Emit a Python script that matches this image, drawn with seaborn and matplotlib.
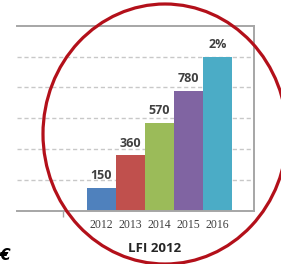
import matplotlib
matplotlib.use("Agg")
import matplotlib.pyplot as plt
import seaborn as sns
import pandas as pd
from matplotlib.patches import Ellipse
from matplotlib.ticker import FixedLocator

years = ["2012", "2013", "2014", "2015", "2016"]
values = [150, 360, 570, 780, 1000]
value_labels = ["150", "360", "570", "780", "2%"]
colors = ["#4F81BD", "#C0504D", "#9BBB59", "#8064A2", "#4BACC6"]
xlabel = "LFI 2012"

df = pd.DataFrame({"year": years, "value": values})

sns.set_theme(style="white")
W, H = 281, 264
fig = plt.figure(figsize=(W / 100, H / 100), dpi=100)
ax = fig.add_axes([17 / W, 1 - 211 / H, (254 - 17) / W, (211 - 25.7) / H])

sns.barplot(data=df, x="year", y="value", hue="year", palette=colors,
            width=1.0, legend=False, ax=ax, saturation=1, linewidth=0)

ax.set_ylim(0, 1200)
ax.set_xlim(-2.91, 5.26)
ax.set_yticks([])
for gy in [200, 400, 600, 800, 1000]:
    ax.axhline(gy, color="#C8C8C8", lw=1, ls=(0, (3, 2)), zorder=0)

for s in ["top", "right", "bottom"]:
    ax.spines[s].set_color("#A6A6A6")
    ax.spines[s].set_linewidth(1.4)
ax.spines["left"].set_visible(False)

ax.tick_params(axis="x", which="major", length=0, pad=6)
ax.xaxis.set_minor_locator(FixedLocator([-1.31]))
ax.tick_params(axis="x", which="minor", length=4, width=1, color="#A6A6A6",
               bottom=True, direction="out")
ax.set_xticks(range(len(years)))
ax.set_xticklabels(years, fontsize=8.5, color="#404040", family="Liberation Serif")
ax.set_xlabel(xlabel, fontsize=9.5, fontweight="bold", color="#262626",
              family="Open Sans", labelpad=8)
ax.xaxis.label.set_x((155 - 17) / (254 - 17))
ax.set_ylabel("")

for i, (v, lab) in enumerate(zip(values, value_labels)):
    ax.annotate(lab, (i, v), xytext=(0, 4), textcoords="offset points",
                ha="center", va="bottom", fontsize=9, fontweight="bold",
                color="#404040", family="Open Sans")

# overlay for ellipse
ov = fig.add_axes([0, 0, 1, 1])
ov.set_xlim(0, W)
ov.set_ylim(H, 0)
ov.axis("off")
ov.patch.set_alpha(0)
ov.add_patch(Ellipse((165, 134), 244, 260, angle=0, fill=False,
                     edgecolor="#B3101A", lw=2.3))
ov.text(0, 263, "€", fontsize=11, fontweight="bold", fontstyle="italic",
        ha="left", va="bottom", color="black")

fig.savefig("out.png", dpi=100)
